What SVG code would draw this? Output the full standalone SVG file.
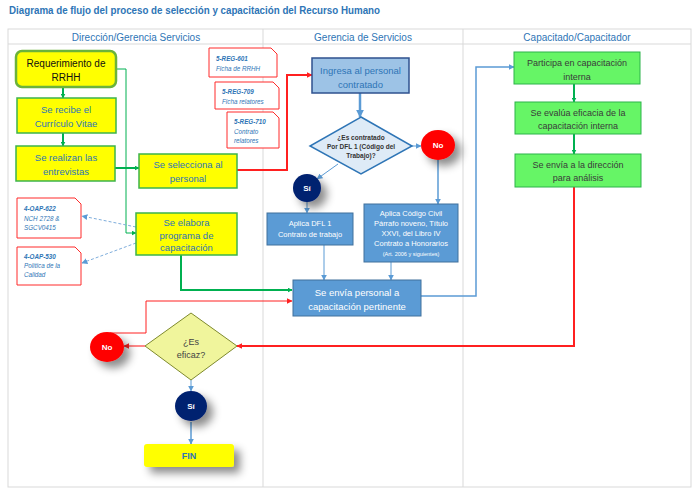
<svg xmlns="http://www.w3.org/2000/svg" width="700" height="495" viewBox="0 0 700 495">
<style>
text{font-family:"Liberation Sans","Noto Sans",Arial,sans-serif}
.title{font-size:10.5px;font-weight:bold;fill:#2E75B6}
.hdr{font-size:10px;fill:#2E75B6;text-anchor:middle}
.grid{stroke:#D9D9D9;stroke-width:1;fill:none}
.yb{fill:#FFFF00;stroke:#3CB44B;stroke-width:1.5}
.yt{font-size:9.5px;fill:#2E75B6;text-anchor:middle}
.doc{fill:#fff;stroke:#FF2A2A;stroke-width:1}
.dt{font-size:6.3px;font-style:italic;fill:#2E75B6}
.db{font-weight:bold}
.bb{fill:#5B9BD5;stroke:#41719C;stroke-width:1}
.wt{fill:#fff;text-anchor:middle}
.gb{fill:#66F566;stroke:#2DB34A;stroke-width:1}
.gt{font-size:9px;fill:#3A3A3A;text-anchor:middle}
.cn{font-size:8px;font-weight:bold;fill:#fff;text-anchor:middle}
.g{stroke:#00B050;fill:none}
.r{stroke:#FF2020;fill:none}
.b{stroke:#5B9BD5;fill:none}
</style>
<defs>
<marker id="ag" viewBox="0 0 10 10" refX="9" refY="5" markerWidth="5" markerHeight="5" orient="auto" markerUnits="userSpaceOnUse"><path d="M0,0L10,5L0,10z" fill="#00B050"/></marker>
<marker id="ar" viewBox="0 0 10 10" refX="9" refY="5" markerWidth="6" markerHeight="6" orient="auto" markerUnits="userSpaceOnUse"><path d="M0,0L10,5L0,10z" fill="#FF2020"/></marker>
<marker id="ab" viewBox="0 0 10 10" refX="9" refY="5" markerWidth="6" markerHeight="6" orient="auto" markerUnits="userSpaceOnUse"><path d="M0,0L10,5L0,10z" fill="#5B9BD5"/></marker>
<marker id="ab2" viewBox="0 0 10 10" refX="9" refY="5" markerWidth="8" markerHeight="8" orient="auto" markerUnits="userSpaceOnUse"><path d="M0,0L10,5L0,10z" fill="#5B9BD5"/></marker>
<filter id="sh" x="-50%" y="-50%" width="250%" height="250%"><feDropShadow dx="6" dy="6" stdDeviation="4" flood-color="#000" flood-opacity="0.45"/></filter>
</defs>

<text class="title" x="9" y="14" textLength="371" lengthAdjust="spacingAndGlyphs">Diagrama de flujo del proceso de selección y capacitación del Recurso Humano</text>

<g id="table">
<rect class="grid" x="8" y="29" width="683" height="458"/>
<line class="grid" x1="8" y1="44" x2="691" y2="44"/>
<line class="grid" x1="263" y1="29" x2="263" y2="487"/>
<line class="grid" x1="463" y1="29" x2="463" y2="487"/>
<text class="hdr" x="136" y="41">Dirección/Gerencia Servicios</text>
<text class="hdr" x="363" y="41">Gerencia de Servicios</text>
<text class="hdr" x="577" y="41">Capacitado/Capacitador</text>
</g>

<g id="connectors">
<line class="g" stroke-width="2" x1="63" y1="87" x2="63" y2="98" marker-end="url(#ag)"/>
<line class="g" stroke-width="2" x1="63" y1="133" x2="63" y2="146" marker-end="url(#ag)"/>
<line class="g" stroke-width="2" x1="115" y1="168" x2="139" y2="168" marker-end="url(#ag)"/>
<polyline class="g" stroke="#5CCB7A" stroke-width="1" points="116,69 126,69 126,233 136,233" marker-end="url(#ag)"/>
<polyline class="g" stroke-width="2" points="181,255 181,290 292,290" marker-end="url(#ag)"/>
<line stroke="#7FAEDC" stroke-width="1" stroke-dasharray="3,2" x1="136" y1="227" x2="82" y2="216" marker-end="url(#ab)"/>
<line stroke="#7FAEDC" stroke-width="1" stroke-dasharray="3,2" x1="136" y1="243" x2="82" y2="263" marker-end="url(#ab)"/>
<polyline class="r" stroke-width="2" points="237,170 287,170 287,75 312,75" marker-end="url(#ar)"/>
<line class="b" stroke-width="2.5" x1="360" y1="93" x2="360" y2="117" marker-end="url(#ab2)"/>
<line class="b" stroke-width="1" x1="412" y1="146" x2="421" y2="146" marker-end="url(#ab)"/>
<line class="b" stroke-width="1" x1="338" y1="164" x2="317" y2="179" marker-end="url(#ab)"/>
<line class="b" stroke-width="1" x1="307" y1="202" x2="307" y2="213" marker-end="url(#ab)"/>
<line class="b" stroke-width="1.5" x1="438" y1="160" x2="438" y2="204" marker-end="url(#ab)"/>
<line class="b" stroke-width="1" x1="324" y1="245" x2="324" y2="280" marker-end="url(#ab)"/>
<line class="b" stroke-width="1" x1="391" y1="262" x2="391" y2="280" marker-end="url(#ab)"/>
<polyline class="b" stroke-width="1.5" points="421,296 476,296 476,67 514,67" marker-end="url(#ab)"/>
<line class="g" stroke-width="2" x1="574" y1="84" x2="574" y2="102" marker-end="url(#ag)"/>
<line class="g" stroke-width="2" x1="574" y1="134" x2="574" y2="154" marker-end="url(#ag)"/>
<polyline class="r" stroke-width="2" points="574,187 574,346 237,346" marker-end="url(#ar)"/>
<line stroke="#FF6060" stroke-width="1.5" x1="145" y1="346" x2="124" y2="346" marker-end="url(#ar)"/>
<polyline class="r" stroke-width="1" points="110,333 146,333 146,301 292,301" marker-end="url(#ar)"/>
<line class="b" stroke-width="1" x1="191" y1="380" x2="191" y2="391" marker-end="url(#ab)"/>
<line class="b" stroke-width="1.5" x1="191" y1="422" x2="191" y2="444" marker-end="url(#ab)"/>
</g>

<g id="n-requerimiento"><rect x="16" y="51" width="100" height="36" rx="6" fill="#FFFF00" stroke="#6BB33A" stroke-width="2.5"/><text x="66" y="67" font-size="10" text-anchor="middle" fill="#111">Requerimiento de</text><text x="66" y="81" font-size="10" text-anchor="middle" fill="#111">RRHH</text></g>
<g id="n-recibe"><rect class="yb" x="17" y="98" width="99" height="35"/><text class="yt" x="66" y="113">Se recibe el</text><text class="yt" x="66" y="127">Currículo Vitae</text></g>
<g id="n-entrevistas"><rect class="yb" x="16" y="146" width="99" height="35"/><text class="yt" x="66" y="161">Se realizan las</text><text class="yt" x="66" y="175">entrevistas</text></g>
<g id="n-selecciona"><rect class="yb" x="139" y="154" width="98" height="34"/><text class="yt" x="188" y="168">Se selecciona al</text><text class="yt" x="188" y="182">personal</text></g>
<g id="n-elabora"><rect class="yb" x="136" y="213" width="101" height="42"/><text class="yt" x="186.5" y="226">Se elabora</text><text class="yt" x="186.5" y="238.5">programa de</text><text class="yt" x="186.5" y="251">capacitación</text></g>

<g id="doc-601"><path class="doc" d="M209,48H271L277,54V77H209Z"/><text class="dt" x="216" y="61"><tspan class="db">5-REG-601</tspan><tspan x="216" y="71">Ficha de RRHH</tspan></text></g>
<g id="doc-709"><path class="doc" d="M215,82H273L279,88V109H215Z"/><text class="dt" x="222" y="94"><tspan class="db">5-REG-709</tspan><tspan x="222" y="104">Ficha relatores</tspan></text></g>
<g id="doc-710"><path class="doc" d="M227,112H273L279,118V148H227Z"/><text class="dt" x="234" y="124"><tspan class="db">5-REG-710</tspan><tspan x="234" y="134">Contrato</tspan><tspan x="234" y="143">relatores</tspan></text></g>
<g id="doc-622"><path class="doc" d="M17,198H75L81,204V238H17Z"/><text class="dt" x="24" y="211"><tspan class="db">4-OAP-622</tspan><tspan x="24" y="221">NCH 2728 &amp;</tspan><tspan x="24" y="230">SGCV0415</tspan></text></g>
<g id="doc-530"><path class="doc" d="M17,247H75L81,253V285H17Z"/><text class="dt" x="24" y="259"><tspan class="db">4-OAP-530</tspan><tspan x="24" y="268">Política de la</tspan><tspan x="24" y="277">Calidad</tspan></text></g>

<g id="n-ingresa"><rect x="312" y="58" width="97" height="35" fill="#9DC3E6" stroke="#2F528F" stroke-width="1.5"/><text x="360.5" y="74" font-size="9.5" text-anchor="middle" fill="#2E75B6">Ingresa al personal</text><text x="360.5" y="88" font-size="9.5" text-anchor="middle" fill="#2E75B6">contratado</text></g>
<g id="n-dfl"><polygon points="361,117 412,146 361,174 310,146" fill="#DEEBF7" stroke="#2E75B6" stroke-width="1.5"/><text font-size="6.5" font-weight="bold" fill="#333" text-anchor="middle"><tspan x="361" y="139.5">¿Es contratado</tspan><tspan x="361" y="148.5">Por DFL 1 (Código del</tspan><tspan x="361" y="157.5">Trabajo)?</tspan></text></g>
<g id="n-no1"><ellipse cx="438" cy="145" rx="17" ry="15" fill="#FF0000" filter="url(#sh)"/><text class="cn" x="438" y="148">No</text></g>
<g id="n-si1"><ellipse cx="307" cy="188" rx="14" ry="14" fill="#002070" filter="url(#sh)"/><text class="cn" x="307" y="191">Sí</text></g>
<g id="n-aplica-dfl"><rect class="bb" x="267" y="213" width="86" height="32"/><text class="wt" font-size="7.5"><tspan x="310" y="226">Aplica DFL 1</tspan><tspan x="310" y="237">Contrato de trabajo</tspan></text></g>
<g id="n-aplica-cc"><rect class="bb" x="364" y="204" width="94" height="58"/><text class="wt" font-size="7.5"><tspan x="411" y="216">Aplica Código Civil</tspan><tspan x="411" y="226">Párrafo noveno, Título</tspan><tspan x="411" y="236">XXVI, del Libro IV</tspan><tspan x="411" y="246">Contrato a Honorarios</tspan><tspan x="411" y="256" font-size="5.5">(Art. 2006 y siguientes)</tspan></text></g>
<g id="n-envia"><rect class="bb" x="293" y="280" width="128" height="36"/><text class="wt" font-size="9.5"><tspan x="357" y="295.5">Se envía personal a</tspan><tspan x="357" y="309.5">capacitación pertinente</tspan></text></g>

<g id="n-participa"><rect class="gb" x="514" y="52" width="126" height="32"/><text class="gt" x="577" y="66">Participa en capacitación</text><text class="gt" x="577" y="80">interna</text></g>
<g id="n-evalua"><rect class="gb" x="515" y="102" width="126" height="32"/><text class="gt" x="578" y="116">Se evalúa eficacia de la</text><text class="gt" x="578" y="129">capacitación interna</text></g>
<g id="n-envia-dir"><rect class="gb" x="515" y="154" width="126" height="33"/><text class="gt" x="578" y="168">Se envía a la dirección</text><text class="gt" x="578" y="181">para análisis</text></g>

<g id="n-eficaz"><polygon points="191,313 237,346 191,380 145,346" fill="#F0F59C" stroke="#7F8A2E" stroke-width="1"/><text x="191" y="344.5" font-size="9" fill="#444" text-anchor="middle">¿Es</text><text x="191" y="357.5" font-size="9" fill="#444" text-anchor="middle">eficaz?</text></g>
<g id="n-no2"><ellipse cx="107" cy="347" rx="17" ry="15" fill="#FF0000" filter="url(#sh)"/><text class="cn" x="107" y="350">No</text></g>
<g id="n-si2"><ellipse cx="191" cy="406" rx="16" ry="15" fill="#002070" filter="url(#sh)"/><text class="cn" x="191" y="409">Sí</text></g>
<g id="n-fin"><rect x="144" y="444" width="90" height="23" rx="3" fill="#FFFF00" filter="url(#sh)"/><text x="189" y="459" font-size="9" font-weight="bold" fill="#2E75B6" text-anchor="middle">FIN</text></g>
</svg>
